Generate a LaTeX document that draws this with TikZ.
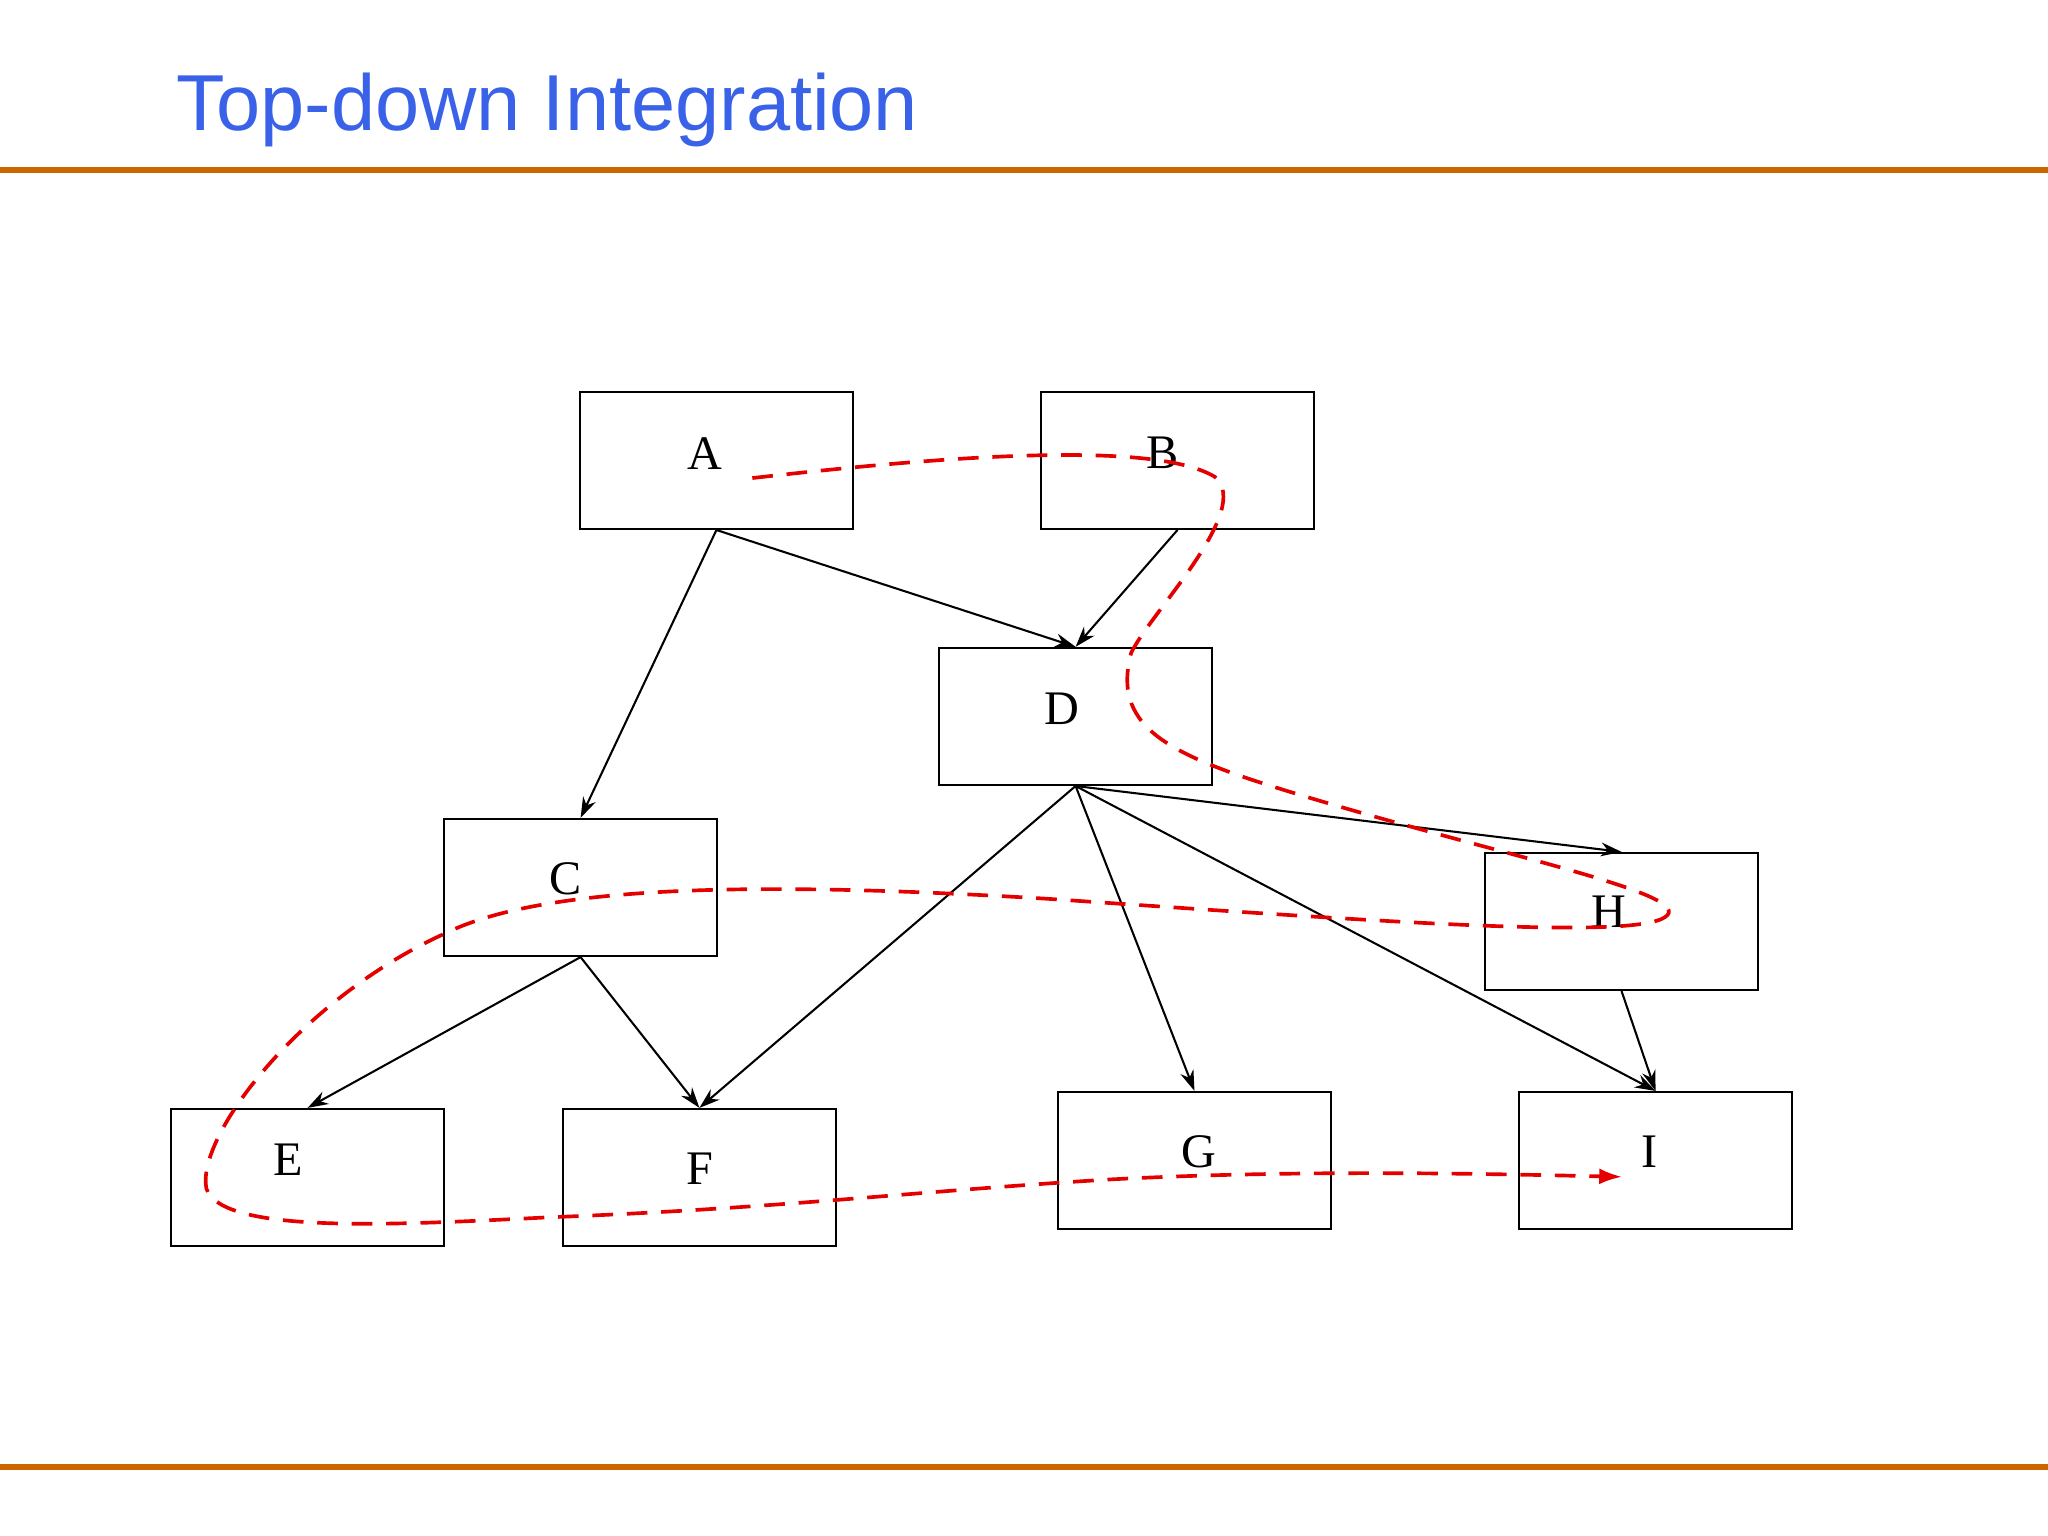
\documentclass[tikz,border=0pt]{standalone}
\usepackage{fontspec}
\setmainfont{Liberation Serif}
\newfontfamily\titlefont{Liberation Sans}
\usetikzlibrary{arrows.meta}
\definecolor{ttl}{RGB}{58,98,232}
\definecolor{rule}{RGB}{204,102,0}
\begin{document}
\begin{tikzpicture}[x=0.02cm,y=-0.02cm,
  mod/.style={draw,line width=0.9pt,minimum width=4.18cm,minimum height=2.1cm,inner sep=0pt},
  lbl/.style={font=\fontsize{21}{24}\selectfont,inner sep=0pt},
  conn/.style={line width=0.9pt,-{Stealth[length=9pt,width=6pt]}},
  path/.style={red!90!black,line width=1.6pt,dash pattern=on 9pt off 6pt}]
\useasboundingbox (0,0) rectangle (1568,1176);
\node[anchor=base west,text=ttl,font=\titlefont\fontsize{34.6}{40}\selectfont,inner sep=0pt] (title) at (135,100) {Top-down Integration};
\draw[rule,line width=2.6pt] (0,130) -- (1568,130);
\draw[rule,line width=2.6pt] (0,1123) -- (1568,1123);
\node[mod] (A) at (548.5,352.5) {};
\node[mod] (B) at (901.5,352.5) {};
\node[mod] (D) at (823.5,548.5) {};
\node[mod] (C) at (444.5,679.5) {};
\node[mod] (H) at (1241.5,705.5) {};
\node[mod] (E) at (235.5,901.5) {};
\node[mod] (F) at (535.5,901.5) {};
\node[mod] (G) at (914.5,888.5) {};
\node[mod] (I) at (1267.5,888.5) {};
\node[lbl] (lA) at (540,347) {A};
\node[lbl] (lB) at (890,347) {B};
\node[lbl] (lD) at (813,543) {D};
\node[lbl] (lC) at (433,673) {C};
\node[lbl] (lH) at (1232,698) {H};
\node[lbl] (lE) at (221,888) {E};
\node[lbl] (lF) at (536,895) {F};
\node[lbl] (lG) at (918,882) {G};
\node[lbl] (lI) at (1263,882) {I};
\draw[conn] (A.south) -- (C.north);
\draw[conn] (A.south) -- (D.north);
\draw[conn] (B.south) -- (D.north);
\draw[conn] (D.south) -- (F.north);
\draw[conn] (D.south) -- (G.north);
\draw[conn] (D.south) -- (I.north);
\draw[conn] (D.south) -- (H.north);
\draw[conn] (C.south) -- (E.north);
\draw[conn] (C.south) -- (F.north);
\draw[conn] (H.south) -- (I.north);
\coordinate (s) at (576,366);
\coordinate (t) at (1242,901);
\draw[path,-{Latex[length=10pt,width=7pt]}] (s) .. controls (700,352) and (880,335) .. (930,365)
  .. controls (960,390) and (880,470) .. (866,500)
  .. controls (850,560) and (900,580) .. (1000,610)
  .. controls (1150,655) and (1300,685) .. (1275,702)
  .. controls (1250,720) and (1050,705) .. (800,688)
  .. controls (600,676) and (420,675) .. (340,715)
  .. controls (230,765) and (150,870) .. (158,910)
  .. controls (170,945) and (300,938) .. (420,932)
  .. controls (600,925) and (700,912) .. (850,903)
  .. controls (1000,895) and (1150,899) .. (t);
\end{tikzpicture}
\end{document}
